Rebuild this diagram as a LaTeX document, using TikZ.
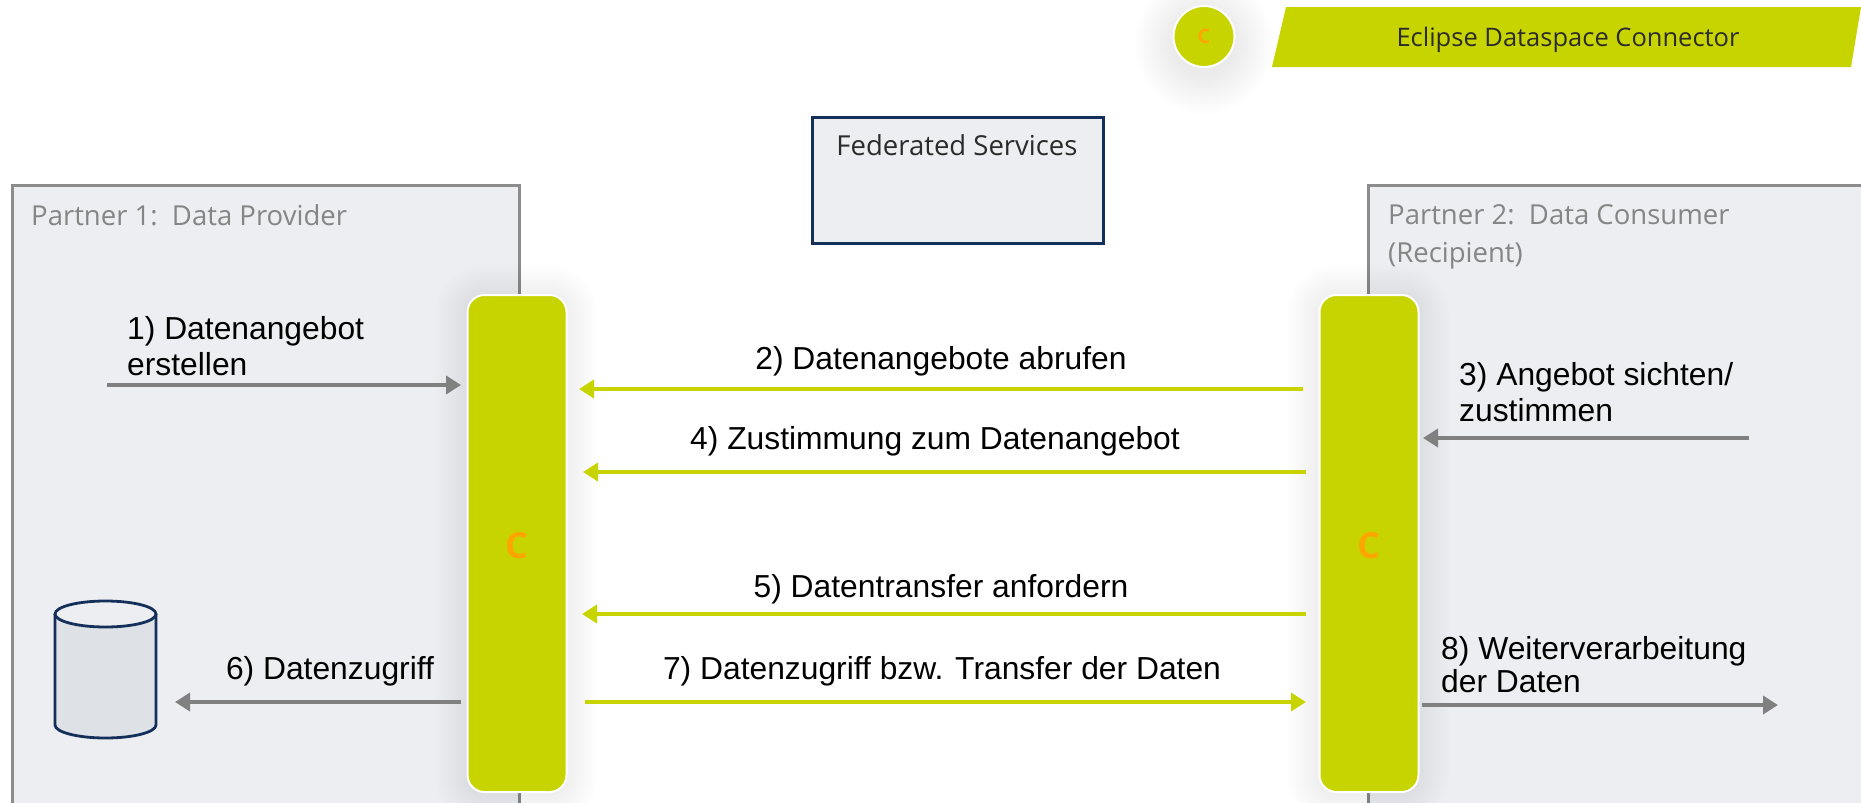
\documentclass[tikz,border=0pt]{standalone}
\usepackage{fontspec}
\setmainfont{Open Sans}
\newfontfamily\arialf{Liberation Sans}
\usetikzlibrary{arrows.meta}
\definecolor{lime}{HTML}{C8D400}
\definecolor{orangec}{HTML}{FFA500}
\definecolor{greyline}{HTML}{808080}
\definecolor{panelfill}{HTML}{EDEEF1}
\definecolor{panelline}{HTML}{8C8C8C}
\definecolor{navy}{HTML}{14305A}
\definecolor{cylfill}{HTML}{DEE1E6}
\definecolor{greytext}{HTML}{858585}
\definecolor{darktext}{HTML}{2B2B2B}
\tikzset{
  x=1pt,y=-1pt,
  panel/.style={draw=panelline,line width=2.6pt,fill=panelfill,rectangle,anchor=north west,inner sep=0pt},
  connbar/.style={rectangle,rounded corners=17pt,fill=lime,draw=white,line width=2pt,minimum width=99pt,minimum height=497pt,inner sep=0pt},
  glow/.style={fill=black,fill opacity=0.004,draw=none},
  barletter/.style={text=orangec,font=\fontsize{36}{36}\selectfont\bfseries},
  greyarrow/.style={draw=greyline,line width=4.4pt,-{Triangle[length=15pt,width=18pt]}},
  limearrow/.style={draw=lime,line width=4.4pt,-{Triangle[length=15pt,width=18pt]}},
  arrowlabel/.style={font=\arialf\fontsize{31.8}{36}\selectfont,text=black,inner sep=0pt,align=left},
  paneltitle/.style={font=\fontsize{27.5}{38}\selectfont,text=greytext,inner sep=0pt,align=left,anchor=north west},
  dbline/.style={draw=navy,line width=2.8pt},
}
\begin{document}
\begin{tikzpicture}
\useasboundingbox (0,0) rectangle (1861,803);
\begin{scope}
\clip (0,0) rectangle (1861,803);
% legend glow
\foreach \g in {2,4,...,40}{
  \fill[glow,fill opacity=0.003] (1204,44) circle ({30+\g});
}
\node[circle,fill=lime,draw=white,line width=2pt,minimum size=61pt,inner sep=0pt] (legendc) at (1204,36.5)
  {\textcolor{orangec}{\fontsize{20}{20}\selectfont\bfseries C}};
\fill[lime] (1286,7) -- (1861,7) -- (1851,67) -- (1272,67) -- cycle;
\node[font=\fontsize{25.5}{30}\selectfont,text=darktext,inner sep=0pt] (legendt) at (1568,40) {Eclipse Dataspace Connector};
% federated
\node[rectangle,draw=navy,line width=2.6pt,fill=panelfill,anchor=north west,minimum width=291pt,minimum height=126pt,inner sep=0pt] (fed) at (811,116) {};
\node[font=\fontsize{27.5}{32}\selectfont,text=darktext,inner sep=0pt] (fedt) at (957,145) {Federated Services};
% panels
\node[panel,minimum width=507pt,minimum height=660pt] (p1) at (11,184) {};
\node[panel,minimum width=540pt,minimum height=660pt] (p2) at (1367,184) {};
\node[paneltitle] (p1t) at (31,204) {Partner 1:\ \ Data Provider};
\node[paneltitle] (p2t) at (1388,204) {Partner 2:\ \ Data Consumer\\(Recipient)};
% bar glows
\foreach \bx in {466.5,1318.5}{
  \foreach \g in {2,4,...,32}{
    \fill[glow,rounded corners={17+\g}] ({\bx-\g},{294-\g+3}) rectangle ({\bx+99+\g},{791+\g+3});
  }
}
% bars
\node[connbar,anchor=north west] (barl) at (466.5,294) {};
\node[connbar,anchor=north west] (barr) at (1318.5,294) {};
\node[barletter] (cl) at ([yshift=-2pt]barl.center) {C};
\node[barletter] (cr) at ([yshift=-2pt]barr.center) {C};
% cylinder
\path[fill=cylfill,dbline] (55,614) -- (55,725) arc[start angle=180,end angle=0,x radius=50.5,y radius=13] -- (156,614);
\path[fill=panelfill,dbline] (105.5,614) ellipse[x radius=50.5,y radius=13];
% free ends
\coordinate (a1s) at (107,385); \coordinate (a1e) at (461,385);
\coordinate (a2s) at (1303,389); \coordinate (a2e) at (579,389);
\coordinate (a3s) at (1749,438); \coordinate (a3e) at (1423,438);
\coordinate (a4s) at (1306,472); \coordinate (a4e) at (583,472);
\coordinate (a5s) at (1306,614); \coordinate (a5e) at (582,614);
\coordinate (a6s) at (461,702); \coordinate (a6e) at (175,702);
\coordinate (a7s) at (585,702); \coordinate (a7e) at (1306,702);
\coordinate (a8s) at (1422,705); \coordinate (a8e) at (1778,705);
\draw[greyarrow] (a1s) -- (a1e);
\draw[limearrow] (a2s) -- (a2e);
\draw[greyarrow] (a3s) -- (a3e);
\draw[limearrow] (a4s) -- (a4e);
\draw[limearrow] (a5s) -- (a5e);
\draw[greyarrow] (a6s) -- (a6e);
\draw[limearrow] (a7s) -- (a7e);
\draw[greyarrow] (a8s) -- (a8e);
% labels
\node[arrowlabel,anchor=west] (l1) at (127,346) {1) Datenangebot\\erstellen};
\node[arrowlabel] (l2) at (941,361) {2) Datenangebote abrufen};
\node[arrowlabel,anchor=west] (l3) at (1459,392) {3) Angebot sichten/\\zustimmen};
\node[arrowlabel] (l4) at (935,441) {4) Zustimmung zum Datenangebot};
\node[arrowlabel] (l5) at (941,589) {5) Datentransfer anfordern};
\node[arrowlabel] (l6) at (330,671) {6) Datenzugriff};
\node[arrowlabel] (l7) at (942,671) {7) Datenzugriff bzw. Transfer der Daten};
\node[arrowlabel,anchor=west,font=\arialf\fontsize{31.8}{33}\selectfont] (l8) at (1441,665) {8) Weiterverarbeitung\\der Daten};
\end{scope}
\end{tikzpicture}
\end{document}
